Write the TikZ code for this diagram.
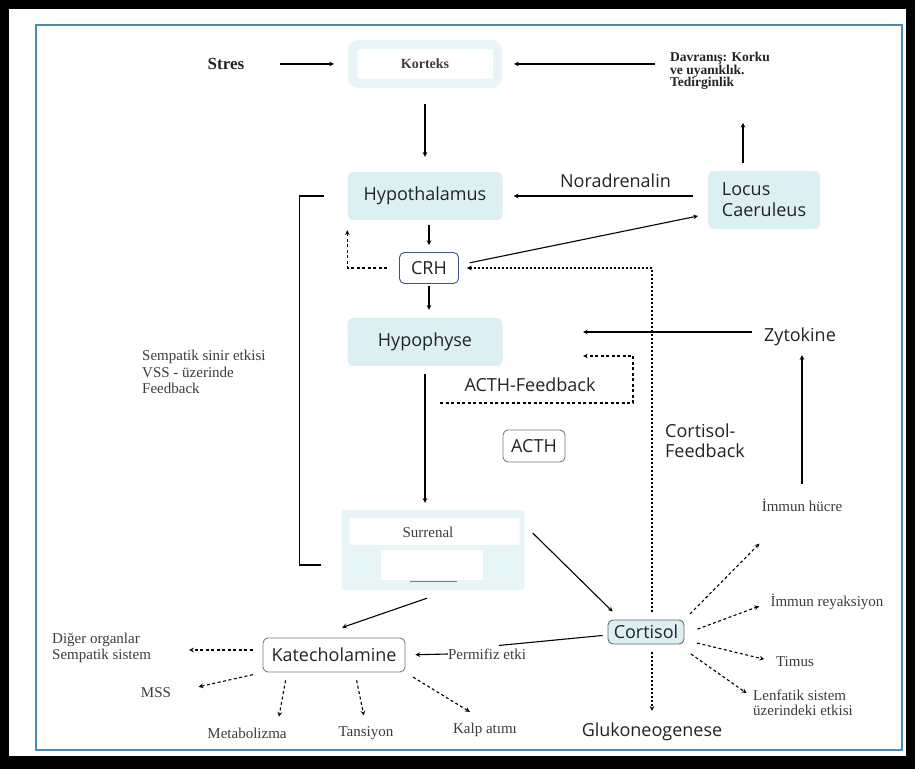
\documentclass[tikz,border=0pt]{standalone}
\usepackage{fontspec}
\setmainfont{Liberation Serif}
\newfontfamily\sansfnt{Open Sans}
\usetikzlibrary{shapes.geometric, arrows}

\definecolor{framebl}{RGB}{70,140,185}
\definecolor{boxcyan}{RGB}{220,239,243}
\definecolor{palecyan}{RGB}{231,245,247}
\definecolor{crhblue}{RGB}{60,80,140}
\definecolor{outgray}{RGB}{110,125,150}
\definecolor{txtdark}{RGB}{35,35,35}
\definecolor{txtgray}{RGB}{60,60,60}

\tikzstyle{cyanbox} = [rectangle, rounded corners=6pt, minimum width=155pt, minimum height=48pt, fill=boxcyan, text=txtdark, font=\sansfnt\fontsize{18}{21}\selectfont]
\tikzstyle{surrbox} = [rectangle, rounded corners=3pt, minimum width=183pt, minimum height=80pt, fill=palecyan]
\tikzstyle{kortbox} = [rectangle, rounded corners=6pt, minimum width=145pt, minimum height=39pt, draw=palecyan, line width=9pt, fill=white, text=txtgray, font=\bfseries\fontsize{14}{16}\selectfont]
\tikzstyle{outbox} = [rectangle, rounded corners=5pt, draw=outgray, line width=0.9pt, fill=white, inner sep=3pt, text=txtdark, font=\sansfnt\fontsize{18}{21}\selectfont]
\tikzstyle{sanslbl} = [inner sep=0pt, align=left, text=txtdark, font=\sansfnt\fontsize{18}{20}\selectfont]
\tikzstyle{seriflbl} = [inner sep=0pt, align=left, text=txtgray, font=\fontsize{15}{16.5}\selectfont]
\tikzstyle{arrow} = [line width=1.1pt,->,>=stealth]
\tikzstyle{dasharrow} = [line width=1.1pt,->,>=stealth, dash pattern=on 3pt off 2.5pt]
\tikzstyle{dotarrow} = [line width=1.1pt,->,>=stealth, dash pattern=on 2pt off 2pt]
\tikzstyle{plainline} = [line width=1.1pt]

\begin{document}
\begin{tikzpicture}[node distance=72pt, x=1pt, y=1pt]

    \useasboundingbox (0,0) rectangle (915,769);
    % frame
    \fill[black] (0,0) rectangle (915,769);
    \fill[white] (9,13) rectangle (906,760);
    \draw[framebl, line width=1.5pt] (36,19) rectangle (902,744);

    \node (korteks) [kortbox] at (425,705) {Korteks};
    \node (stres) [seriflbl, left of=korteks, xshift=-127pt, text=txtdark, font=\bfseries\fontsize{17}{19}\selectfont] {Stres};
    \node (davranis) [seriflbl, anchor=west, text=txtdark, font=\bfseries\fontsize{13.5}{12.5}\selectfont] at (670,698) {Davranış: Korku\\ve uyanıklık.\\Tedirginlik};
    \node (hypothalamus) [cyanbox, below of=korteks, yshift=-60pt] {Hypothalamus};
    \node (locus) [cyanbox, right of=hypothalamus, xshift=267pt, yshift=-4pt, minimum width=112pt, minimum height=55pt, inner sep=12pt, align=left] {Locus\\Caeruleus};
    \node (crh) [outbox, draw=crhblue, below of=hypothalamus, xshift=4pt, minimum width=59pt, minimum height=31pt] {CRH};
    \node (hypophyse) [cyanbox, below of=crh, xshift=-4pt, yshift=-2pt] {Hypophyse};
    \node (zytokine) [sanslbl, right of=hypophyse, xshift=303pt, yshift=5pt] {Zytokine};
    \node (acth) [outbox, minimum width=62pt, minimum height=32pt] at (534,323) {ACTH};
    \node (surrenal) [surrbox, below of=hypophyse, xshift=8pt, yshift=-136pt] {};
    \fill[white, rounded corners=2pt] ([shift={(8pt,-8pt)}]surrenal.north west) rectangle ([shift={(-5pt,-35pt)}]surrenal.north east);
    \fill[white] ([shift={(40pt,-40pt)}]surrenal.north west) rectangle ([shift={(-42pt,10pt)}]surrenal.south east);
    \draw[gray, line width=1.2pt] ([shift={(-23pt,9pt)}]surrenal.south) -- ([shift={(24pt,9pt)}]surrenal.south);
    \node (surrtext) [seriflbl] at ([xshift=-5pt,yshift=-23pt]surrenal.north) {Surrenal};
    \node (katechol) [outbox, minimum width=142pt, minimum height=34pt] at (334,114) {Katecholamine};
    \node (cortisol) [outbox, fill=boxcyan, draw=black!60, minimum width=76pt, minimum height=24pt, inner sep=2pt] at (646,137) {Cortisol};
    \node (glukoneo) [sanslbl, below of=cortisol, xshift=6pt, yshift=-28pt] {Glukoneogenese};

    \node (sempatik) [seriflbl, anchor=west] at (142,397) {Sempatik sinir etkisi\\VSS - üzerinde\\Feedback};
    \node (acthfb) [sanslbl] at (530,384) {ACTH-Feedback};
    \node (cortfb) [sanslbl, anchor=west] at (665,328) {Cortisol-\\Feedback};
    \node (immunh) [seriflbl] at (802,264) {İmmun hücre};
    \node (immunr) [seriflbl] at (827,167) {İmmun reyaksiyon};
    \node (timus) [seriflbl] at (795,107) {Timus};
    \node (lenfatik) [seriflbl, anchor=west, font=\fontsize{15}{15.5}\selectfont] at (753,66) {Lenfatik sistem\\üzerindeki etkisi};
    \node (diger) [seriflbl, anchor=west] at (52,121) {Diğer organlar\\Sempatik sistem};
    \node (mss) [seriflbl] at (156,76) {MSS};
    \node (metab) [seriflbl] at (247,36) {Metabolizma};
    \node (tansiyon) [seriflbl] at (366,36) {Tansiyon};
    \node (kalp) [seriflbl] at (485,39) {Kalp atımı};
    \node (permifiz) [seriflbl] at (487,115) {Permifiz etki};

    \coordinate (zyttip) at (583,437);
    \coordinate (fbstart) at (440,366);
    \coordinate (fbturn) at (633,413);
    \coordinate (fbtip) at (583,413);

    \draw [arrow, shorten <=36pt, shorten >=14pt] (stres) -- (korteks);
    \draw [arrow, shorten <=15pt, shorten >=12pt] (davranis.west |- korteks.east) -- (korteks.east);
    \draw [arrow, shorten <=16pt, shorten >=15pt] (korteks) -- (hypothalamus);
    \draw [arrow, shorten <=5pt, shorten >=7pt] (crh.north |- hypothalamus.south) -- (crh.north);
    \draw [arrow, shorten <=2pt, shorten >=8pt] (crh.south) -- (crh.south |- hypophyse.north);
    \draw [arrow, shorten <=8pt, shorten >=7pt] (hypophyse.south) -- (hypophyse.south |- surrenal.north);
    \draw [arrow, shorten <=15pt, shorten >=11pt] (locus.west |- hypothalamus.east) -- node [sanslbl, above=8pt, pos=0.45] {Noradrenalin} (hypothalamus.east);
    \draw [arrow, shorten <=11pt, shorten >=10pt] ([yshift=3pt]crh.east) -- ([yshift=-14pt]locus.west);
    \draw [arrow, shorten <=8pt, shorten >=33pt] ([xshift=-21pt]locus.north) -- ([xshift=-21pt]locus.north |- davranis.south);
    \draw [dasharrow, shorten <=12pt] (crh.west) -| ([yshift=-10pt]hypothalamus.south west);
    \draw [dotarrow, shorten <=8pt, shorten >=8pt] ([xshift=6pt]cortisol.north) |- (crh.east);
    \draw [dotarrow, shorten <=8pt, shorten >=12pt] ([xshift=6pt]cortisol.south) -- ([xshift=6pt]cortisol.south |- glukoneo.north);
    \draw [dasharrow] (fbstart) -| (fbturn) -- (fbtip);
    \draw [arrow, shorten <=12pt] (zyttip -| zytokine.west) -- (zyttip);
    \draw [arrow, shorten <=15pt, shorten >=9pt] (immunh.north) -- (immunh.north |- zytokine.south);
    \draw [arrow] ([xshift=-6pt,yshift=-8pt]surrenal.south) -- ([xshift=8pt,yshift=10pt]katechol.north);
    \draw [arrow] ([shift={(8pt,17pt)}]surrenal.east) -- ([shift={(5pt,8pt)}]cortisol.north west);
    \draw [plainline, shorten <=5pt] ([yshift=-3pt]cortisol.west) -- ([xshift=12pt,yshift=3pt]permifiz.north);
    \draw [arrow, shorten >=10pt] (permifiz.west) -- (katechol.east);

    \draw [dasharrow, shorten <=10pt, shorten >=38pt] ([yshift=5pt]katechol.west) -- ([yshift=5pt]katechol.west -| diger.east);
    \draw [dasharrow, shorten <=10pt, shorten >=28pt] (katechol.south west) -- (mss.east);
    \draw [dasharrow, shorten <=8pt, shorten >=11pt] ([xshift=-47pt]katechol.south) -- ([xshift=30pt]metab.north);
    \draw [dasharrow, shorten <=8pt, shorten >=11pt] ([xshift=21pt]katechol.south) -- (tansiyon.north);
    \draw [dasharrow, shorten <=9pt, shorten >=6pt] (katechol.south east) -- ([xshift=-10pt,yshift=8pt]kalp.north);

    \draw [dasharrow, shorten <=8pt, shorten >=3pt] (cortisol.north east) -- ([yshift=-30pt]immunh.south west);
    \draw [dasharrow, shorten <=14pt, shorten >=12pt] ([yshift=-2pt]cortisol.east) -- (immunr.west);
    \draw [dasharrow, shorten <=13pt, shorten >=12pt] ([yshift=-8pt]cortisol.east) -- (timus.west);
    \draw [dasharrow, shorten <=8pt, shorten >=8pt] ([yshift=-5pt]cortisol.south east) -- ([yshift=-8pt]lenfatik.north west);

    \draw [plainline] ([xshift=-23pt]hypothalamus.west) -| ([xshift=-42pt,yshift=-15pt]surrenal.west) -- ([xshift=-20pt,yshift=-15pt]surrenal.west);

\end{tikzpicture}
\end{document}
